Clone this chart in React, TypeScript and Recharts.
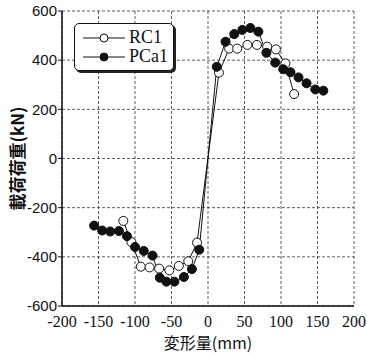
import { LineChart, Line, XAxis, YAxis, CartesianGrid, Label } from 'recharts'

// displacement (mm) and load (kN)
const rc1Disp = [-116, -105, -92, -80, -67, -53, -40, -27, -15, 15, 29, 40, 54, 67, 81, 93, 106, 118]
const rc1Load = [-254, -340, -440, -443, -448, -455, -437, -418, -342, 349, 447, 447, 462, 462, 455, 444, 387, 262]

const pca1Disp = [-156, -145, -134, -122, -111, -100, -88, -76, -66, -57, -46, -33, -22, -12, 12, 24, 36, 47, 58, 69, 80, 92, 103, 113, 124, 135, 147, 158]
const pca1Load = [-273, -293, -297, -295, -316, -360, -376, -395, -485, -501, -501, -482, -450, -371, 373, 475, 506, 523, 531, 516, 430, 390, 363, 351, 330, 306, 281, 276]

const seriesNames = ['RC1', 'PCa1']
const xTicks = [-200, -150, -100, -50, 0, 50, 100, 150, 200]
const yTicks = [-600, -400, -200, 0, 200, 400, 600]

const rc1Data = rc1Disp.map((x, i) => ({ x, y: rc1Load[i] }))
const pca1Data = pca1Disp.map((x, i) => ({ x, y: pca1Load[i] }))

const SERIF = '"Liberation Serif", "DejaVu Serif", serif'
const SANS = '"Liberation Sans", Arial, sans-serif'

function LegendBox() {
  const row = (label: string, filled: boolean) => (
    <div key={label} style={{ display: 'flex', alignItems: 'center', height: 19, lineHeight: '19px' }}>
      <svg width={46} height={12}>
        <line x1={2} y1={6} x2={44} y2={6} stroke="#111" strokeWidth={1} />
        <circle cx={23} cy={6} r={4} fill={filled ? '#111' : '#fff'} stroke="#111" strokeWidth={1} />
      </svg>
      <span style={{ fontFamily: SERIF, fontSize: 18, color: '#111', marginLeft: 2 }}>{label}</span>
    </div>
  )
  return (
    <div
      style={{
        position: 'absolute',
        left: 74,
        top: 23,
        width: 100,
        height: 48,
        border: '1.5px solid #111',
        borderRadius: 5,
        boxShadow: '2px 2px 0 #222',
        background: '#fff',
        padding: '4px 0 0 6px',
        boxSizing: 'border-box',
      }}
    >
      {row(seriesNames[0], false)}
      {row(seriesNames[1], true)}
    </div>
  )
}

export default function App() {
  return (
    <div style={{ position: 'absolute', left: 0, top: 0, width: 367, height: 353, background: '#fff' }}>
      <LineChart width={367} height={353} margin={{ top: 11, right: 13, bottom: 0, left: 10 }}>
        <CartesianGrid stroke="#333" strokeDasharray="3 2" strokeWidth={0.8} />
        <XAxis
          type="number"
          dataKey="x"
          domain={[-200, 200]}
          ticks={xTicks}
          allowDuplicatedCategory={false}
          tick={{ fontFamily: SERIF, fontSize: 16, fill: '#111' }}
          tickLine={false}
          axisLine={{ stroke: '#111', strokeWidth: 1.5 }}
          tickMargin={4}
          height={47}
        >
          <Label value="変形量(mm)" position="insideBottom" offset={4} style={{ fontFamily: '"Noto Sans CJK JP", serif', fontSize: 16, fill: '#111' }} />
        </XAxis>
        <YAxis
          type="number"
          dataKey="y"
          domain={[-600, 600]}
          ticks={yTicks}
          tick={{ fontFamily: SANS, fontSize: 15, fill: '#111' }}
          tickLine={{ stroke: '#111' }}
          tickSize={4}
          tickMargin={1}
          axisLine={{ stroke: '#111', strokeWidth: 1.5 }}
          width={52}
        >
          <Label value="載荷荷重(kN)" angle={-90} position="insideLeft" offset={8} style={{ fontFamily: '"Noto Sans CJK JP", sans-serif', fontSize: 17, fontWeight: 700, fill: '#111', textAnchor: 'middle' }} />
        </YAxis>
        {/* frame top/right */}
        <XAxis xAxisId="top" orientation="top" type="number" domain={[-200, 200]} tick={false} tickLine={false} axisLine={{ stroke: '#111', strokeWidth: 1.5 }} height={0} />
        <YAxis yAxisId="right" orientation="right" type="number" domain={[-600, 600]} tick={false} tickLine={false} axisLine={{ stroke: '#111', strokeWidth: 1.5 }} width={0} />
        <Line
          data={rc1Data}
          dataKey="y"
          name={seriesNames[0]}
          stroke="#111"
          strokeWidth={1}
          dot={{ r: 4.5, fill: '#fff', stroke: '#111', strokeWidth: 1 }}
          isAnimationActive={false}
        />
        <Line
          data={pca1Data}
          dataKey="y"
          name={seriesNames[1]}
          stroke="#111"
          strokeWidth={1}
          dot={{ r: 4.5, fill: '#111', stroke: '#111', strokeWidth: 1 }}
          isAnimationActive={false}
        />
      </LineChart>
      <LegendBox />
    </div>
  )
}
